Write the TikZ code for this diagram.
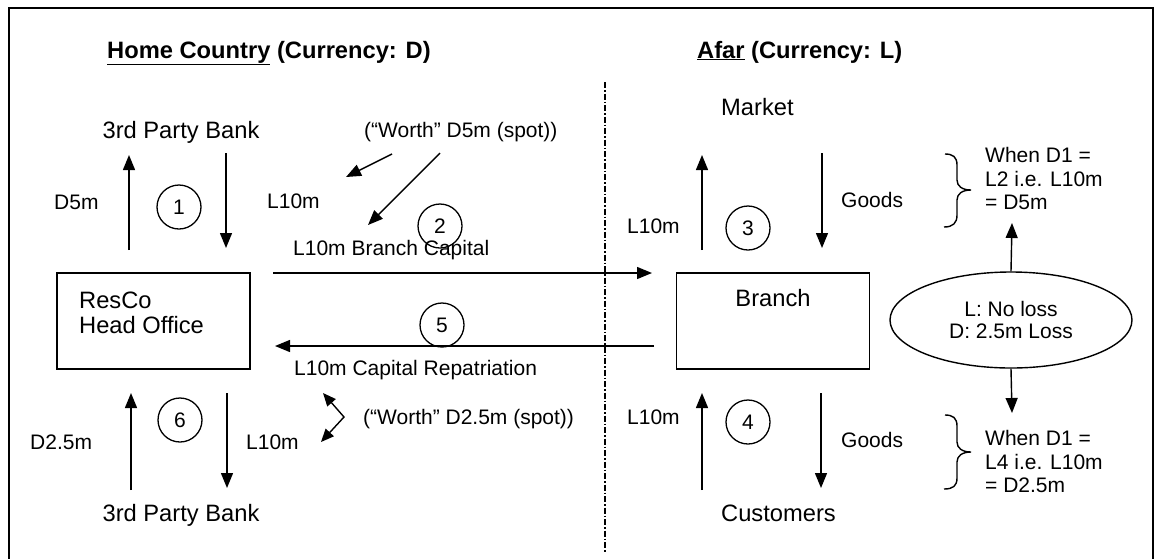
\documentclass[tikz,border=0pt]{standalone}
\usepackage{fontspec}
\setmainfont{Liberation Sans}
\usetikzlibrary{arrows.meta,calc,shapes.geometric}

\begin{document}
\begin{tikzpicture}[x=1pt,y=-1pt,
  big/.style={font=\fontsize{23.7}{25}\selectfont, inner sep=0pt},
  small/.style={font=\fontsize{21}{23.5}\selectfont, inner sep=0pt},
  heading/.style={font=\fontsize{23.7}{25}\selectfont\bfseries, inner sep=0pt},
  flow/.style={line width=1.4pt, -{Triangle[length=15pt,width=12pt]}},
  office/.style={draw, line width=1.8pt, minimum width=193pt, minimum height=96pt, inner sep=0pt},
  num/.style={draw, circle, line width=1.3pt, minimum size=44pt, inner sep=0pt, font=\fontsize{21}{23}\selectfont},
  curly/.style={line width=1.4pt},
]
\useasboundingbox (0,0) rectangle (1162,558);

% outer frame (open at the bottom edge of the page)
\draw[line width=1.5pt] (9,560) -- (9,8) -- (1153,8) -- (1153,560);

% border between the two countries
\coordinate (divtop) at (605,82);
\coordinate (divbot) at (605,553);
\draw[line width=1.1pt, dash pattern=on 6pt off 2pt on 1.5pt off 2pt] (divtop) -- (divbot);

% headings
\node[heading, anchor=base west] (hometitle) at (107,58) {\underline{Home Country} (Currency: D)};
\node[heading, anchor=base west] (afartitle) at (697,58) {\underline{Afar} (Currency: L)};

% offices
\node[office] (resco) at (153.5,321) {};
\node[big, anchor=north west, align=left] (rescotext) at (79,291.5) {ResCo\\Head Office};
\node[office] (branch) at (773,321) {};
\node[big, anchor=base] (branchtext) at (773,306.5) {Branch};

% counterparties
\node[big, anchor=base] (banktop) at (181,138.5) {3rd Party Bank};
\node[big, anchor=base] (bankbot) at (181,521.5) {3rd Party Bank};
\node[big, anchor=base west] (market) at (721,115.5) {Market};
\node[big, anchor=base west] (customers) at (721,521.5) {Customers};

% step numbers
\node[num] (c1) at (179,207) {1};
\node[num] (c2) at (440,226) {2};
\node[num] (c3) at (748,228) {3};
\node[num] (c4) at (748,422) {4};
\node[num] (c5) at (442,325) {5};
\node[num] (c6) at (180,420) {6};

% amounts and notes
\node[small, anchor=base west] (d5m) at (54,209.5) {D5m};
\node[small, anchor=base west] (l10a) at (267,208.5) {L10m};
\node[small, anchor=base west] (worthtop) at (364,137.5) {(“Worth” D5m (spot))};
\node[small, anchor=base west] (capital) at (293,255.5) {L10m Branch Capital};
\node[small, anchor=base west] (l10b) at (627,233.5) {L10m};
\node[small, anchor=base west] (goodsup) at (841,207.5) {Goods};
\node[small, anchor=north west, align=left] (whenup) at (985,147.5) {When D1 =\\L2 i.e. L10m\\= D5m};
\node[draw, ellipse, line width=1.4pt, minimum width=242pt, minimum height=96pt, inner sep=0pt,
      font=\fontsize{21}{22}\selectfont, align=center] (loss) at (1011,320) {L: No loss\\D: 2.5m Loss};
\node[small, anchor=base west] (repat) at (294,375.5) {L10m Capital Repatriation};
\node[small, anchor=base west] (d25m) at (30,449.5) {D2.5m};
\node[small, anchor=base west] (l10c) at (246,449.5) {L10m};
\node[small, anchor=base west] (worthbot) at (363,424.5) {(“Worth” D2.5m (spot))};
\node[small, anchor=base west] (l10d) at (627,424.5) {L10m};
\node[small, anchor=base west] (goodsdown) at (841,447.5) {Goods};
\node[small, anchor=north west, align=left] (whendown) at (985,430.5) {When D1 =\\L4 i.e. L10m\\= D2.5m};

% arrow end points
\coordinate (a1us) at (129,250);  \coordinate (a1ue) at (129,155);
\coordinate (a1ds) at (226,153);  \coordinate (a1de) at (226,248);
\coordinate (a2s) at (273,273);   \coordinate (a2e) at (652,273);
\coordinate (a3us) at (702,250);  \coordinate (a3ue) at (702,155);
\coordinate (a3ds) at (822,153);  \coordinate (a3de) at (822,248);
\coordinate (wts) at (392,154);   \coordinate (wte) at (346,177);
\coordinate (wls) at (440,153);   \coordinate (wle) at (368,225);
\coordinate (lue) at (1012,223);  \coordinate (lde) at (1012,413);
\coordinate (a5s) at (654,346);   \coordinate (a5e) at (275,346);
\coordinate (a6us) at (131,490);  \coordinate (a6ue) at (131,393);
\coordinate (a6ds) at (227,393);  \coordinate (a6de) at (227,488);
\coordinate (a4us) at (702,490);  \coordinate (a4ue) at (702,393);
\coordinate (a4ds) at (821,393);  \coordinate (a4de) at (821,488);
\coordinate (wba) at (323,393);   \coordinate (wbv) at (344,417);  \coordinate (wbb) at (321,442);

% flows
\draw[flow] (a1us) -- (a1ue);
\draw[flow] (a1ds) -- (a1de);
\draw[flow] (a2s) -- (a2e);
\draw[flow] (a3us) -- (a3ue);
\draw[flow] (a3ds) -- (a3de);
\draw[flow] (wts) -- (wte);
\draw[flow] (wls) -- (wle);
\draw[flow] (loss.north) -- (lue);
\draw[flow] (loss.south) -- (lde);
\draw[flow] (a5s) -- (a5e);
\draw[flow] (a6us) -- (a6ue);
\draw[flow] (a6ds) -- (a6de);
\draw[flow] (a4us) -- (a4ue);
\draw[flow] (a4ds) -- (a4de);
\draw[line width=1.4pt, {Triangle[length=13pt,width=11pt]}-{Triangle[length=13pt,width=11pt]}] (wba) -- (wbv) -- (wbb);

% braces
\draw[curly] (945,154) .. controls (953,154) and (957,157) .. (957,165) -- (957,180)
  .. controls (957,186) and (962,190) .. (971,190)
  .. controls (962,190) and (957,194) .. (957,200) -- (957,215)
  .. controls (957,223) and (953,227) .. (944,227);
\draw[curly] (945,415) .. controls (953,415) and (957,418) .. (957,426) -- (957,442)
  .. controls (957,448) and (962,452) .. (971,452)
  .. controls (962,452) and (957,456) .. (957,462) -- (957,478)
  .. controls (957,486) and (953,489) .. (944,489);
\end{tikzpicture}
\end{document}
